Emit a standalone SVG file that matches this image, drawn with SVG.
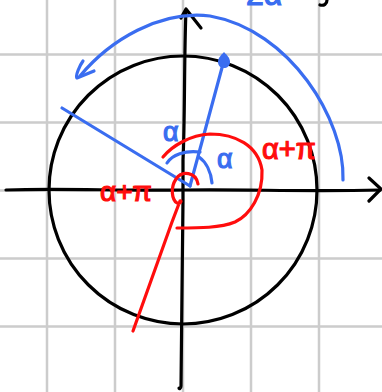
<svg xmlns="http://www.w3.org/2000/svg" width="382" height="392" viewBox="0 0 382 392">
<style>
.grid{stroke:#cccccc;stroke-width:2.5;fill:none}
.blk{stroke:#000;stroke-width:3.2;fill:none;stroke-linecap:round;stroke-linejoin:round}
.blu{stroke:#3a6df0;stroke-width:3.2;fill:none;stroke-linecap:round;stroke-linejoin:round}
.red{stroke:#ff0d0d;stroke-width:3.2;fill:none;stroke-linecap:round;stroke-linejoin:round}
.tb{fill:#3a6df0;stroke:#3a6df0;stroke-width:1.2;font-family:"Liberation Sans",sans-serif}
.tr{fill:#ff0d0d;stroke:#ff0d0d;stroke-width:1.2;font-family:"Liberation Sans",sans-serif}
</style>
<rect width="382" height="392" fill="#fff"/>
<g id="grid">
<path class="grid" d="M47,0V392M115,0V392M183,0V392M251,0V392M319,0V392"/>
<path class="grid" d="M0,54.5H382M0,122.5H382M0,190.5H382M0,258.5H382M0,326.5H382"/>
</g>
<g id="axes">
<path class="blk" d="M6,190 C60,188 120,191 183,190 C250,189 300,192 380,190"/>
<path class="blk" d="M369,178 L381,189 L369,201"/>
<path class="blk" d="M186,10 C184,60 185,120 183,160 L183,200 C182,260 182,330 181,386 C181,389 179,389 179,388"/>
<path class="blk" d="M181,18 L186,9 L201,28"/>
</g>
<g id="circle">
<circle class="blk" cx="183" cy="190" r="134"/>
</g>
<g id="connectors">
<path class="blu" d="M62,108 L190,186"/>
<path class="blu" d="M223,64 L190,186"/>
<path class="blu" d="M343,180 C345,120 290,30 210,16 C160,10 110,40 80,76"/>
<path class="blu" d="M83,61 C80,65 75,76 77,78 L94,71"/>
<path class="blu" d="M167,163 C172,155 185,150 200,152"/>
<path class="blu" d="M199,157 C206,162 211,172 212,183"/>
<path class="red" d="M163,157 C172,146 190,135 210,134 C235,134 258,145 262,170 C263,195 250,215 235,222 C220,228 200,228 177,228"/>
<path class="red" d="M198,184 C196,172 182,170 176,179 C170,188 172,200 177,203 C181,204 182,200 180,201 L172,222 L133,331"/>
</g>
<g id="dot">
<path d="M224,52 C227,55 230,58 230,62 C230,66 227,68 224,68 C220,68 218,65 218,62 C218,58 221,55 224,52 Z" fill="#3a6df0"/>
</g>
<g id="labels">
<text class="tb" x="246" y="5" font-size="32">2α</text>
<path class="blk" d="M327,0 C327,4 324,6 320,5"/>
<text class="tb" x="163" y="141" font-size="27">α</text>
<text class="tb" x="217" y="168" font-size="27">α</text>
<text class="tr" x="100" y="201" font-size="28">α+π</text>
<text class="tr" x="262" y="159" font-size="29">α+π</text>
</g>
</svg>
